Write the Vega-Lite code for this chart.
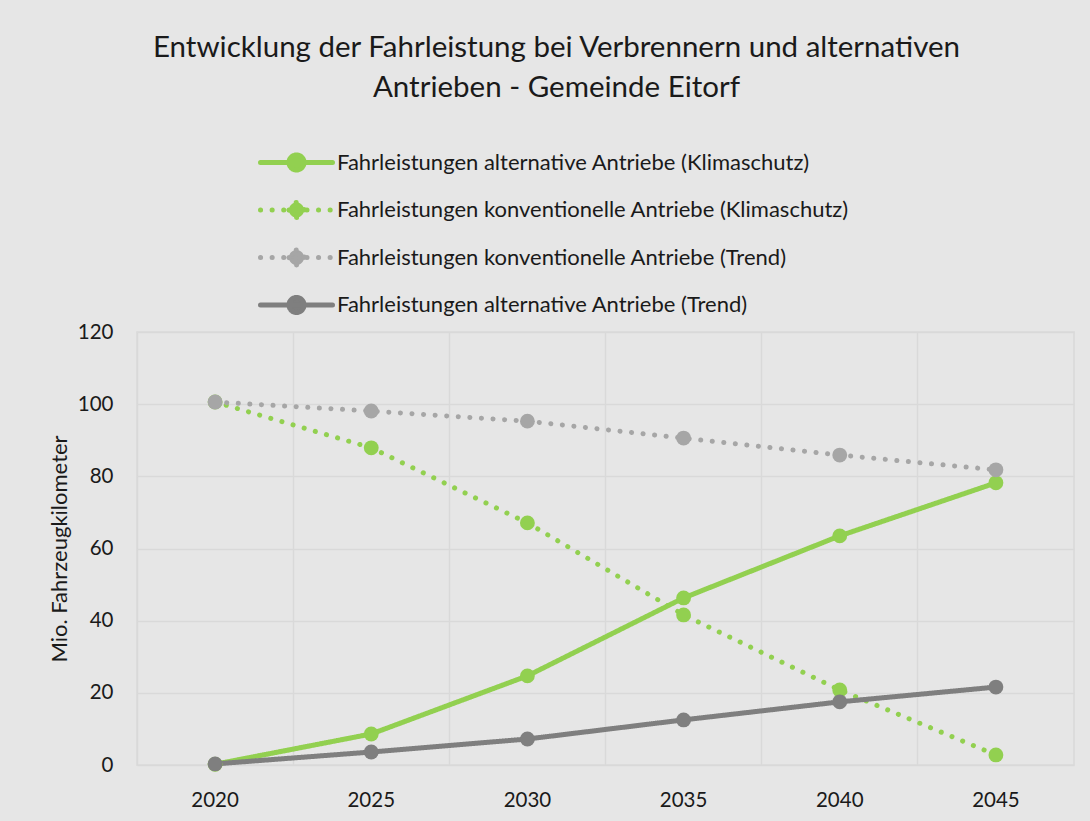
{
  "$schema": "https://vega.github.io/schema/vega-lite/v6.json",
  "width": 937,
  "height": 433,
  "autosize": "none",
  "padding": {"left": 137, "top": 332, "right": 16, "bottom": 56},
  "background": "#e6e6e6",
  "config": {
    "font": "Lato",
    "view": {"stroke": "#d9d9d9", "strokeWidth": 1.5}
  },
  "title": {
    "text": ["Entwicklung der Fahrleistung bei Verbrennern und alternativen", "Antrieben - Gemeinde Eitorf"],
    "fontSize": 29.5,
    "fontWeight": "normal",
    "color": "#1a1a1a",
    "anchor": "middle",
    "dx": -49,
    "lineHeight": 40,
    "offset": 47
  },
  "data": {
    "values": [
      {"Jahr": "2020", "Serie": "Fahrleistungen alternative Antriebe (Klimaschutz)", "Wert": 0.2},
      {"Jahr": "2025", "Serie": "Fahrleistungen alternative Antriebe (Klimaschutz)", "Wert": 8.6},
      {"Jahr": "2030", "Serie": "Fahrleistungen alternative Antriebe (Klimaschutz)", "Wert": 24.7},
      {"Jahr": "2035", "Serie": "Fahrleistungen alternative Antriebe (Klimaschutz)", "Wert": 46.3},
      {"Jahr": "2040", "Serie": "Fahrleistungen alternative Antriebe (Klimaschutz)", "Wert": 63.5},
      {"Jahr": "2045", "Serie": "Fahrleistungen alternative Antriebe (Klimaschutz)", "Wert": 78.2},
      {"Jahr": "2020", "Serie": "Fahrleistungen konventionelle Antriebe (Klimaschutz)", "Wert": 100.6},
      {"Jahr": "2025", "Serie": "Fahrleistungen konventionelle Antriebe (Klimaschutz)", "Wert": 87.9},
      {"Jahr": "2030", "Serie": "Fahrleistungen konventionelle Antriebe (Klimaschutz)", "Wert": 67.1},
      {"Jahr": "2035", "Serie": "Fahrleistungen konventionelle Antriebe (Klimaschutz)", "Wert": 41.6},
      {"Jahr": "2040", "Serie": "Fahrleistungen konventionelle Antriebe (Klimaschutz)", "Wert": 20.8},
      {"Jahr": "2045", "Serie": "Fahrleistungen konventionelle Antriebe (Klimaschutz)", "Wert": 2.8},
      {"Jahr": "2020", "Serie": "Fahrleistungen konventionelle Antriebe (Trend)", "Wert": 100.6},
      {"Jahr": "2025", "Serie": "Fahrleistungen konventionelle Antriebe (Trend)", "Wert": 98.1},
      {"Jahr": "2030", "Serie": "Fahrleistungen konventionelle Antriebe (Trend)", "Wert": 95.3},
      {"Jahr": "2035", "Serie": "Fahrleistungen konventionelle Antriebe (Trend)", "Wert": 90.6},
      {"Jahr": "2040", "Serie": "Fahrleistungen konventionelle Antriebe (Trend)", "Wert": 85.9},
      {"Jahr": "2045", "Serie": "Fahrleistungen konventionelle Antriebe (Trend)", "Wert": 81.8},
      {"Jahr": "2020", "Serie": "Fahrleistungen alternative Antriebe (Trend)", "Wert": 0.3},
      {"Jahr": "2025", "Serie": "Fahrleistungen alternative Antriebe (Trend)", "Wert": 3.6},
      {"Jahr": "2030", "Serie": "Fahrleistungen alternative Antriebe (Trend)", "Wert": 7.2},
      {"Jahr": "2035", "Serie": "Fahrleistungen alternative Antriebe (Trend)", "Wert": 12.5},
      {"Jahr": "2040", "Serie": "Fahrleistungen alternative Antriebe (Trend)", "Wert": 17.5},
      {"Jahr": "2045", "Serie": "Fahrleistungen alternative Antriebe (Trend)", "Wert": 21.6}
    ]
  },
  "mark": {
    "type": "line",
    "strokeWidth": 5,
    "strokeCap": "round",
    "point": {"filled": true, "size": 220, "opacity": 1}
  },
  "encoding": {
    "x": {
      "field": "Jahr",
      "type": "ordinal",
      "bandPosition": 0.5,
      "scale": {"type": "band", "paddingInner": 0, "paddingOuter": 0},
      "axis": {
        "title": null,
        "bandPosition": 0,
        "labelOffset": 0,
        "labelAngle": 0,
        "labelFontSize": 20.5,
        "labelColor": "#1a1a1a",
        "labelPadding": 25,
        "ticks": false,
        "domain": false,
        "grid": true,
        "gridColor": "#d9d9d9",
        "gridWidth": 1.5
      }
    },
    "y": {
      "field": "Wert",
      "type": "quantitative",
      "scale": {"domain": [0, 120], "nice": false},
      "axis": {
        "title": "Mio. Fahrzeugkilometer",
        "titleFontSize": 22,
        "titleFontWeight": "normal",
        "titleColor": "#1a1a1a",
        "titlePadding": 6,
        "values": [0, 20, 40, 60, 80, 100, 120],
        "labelFontSize": 20.5,
        "labelColor": "#1a1a1a",
        "labelPadding": 24,
        "ticks": false,
        "domain": false,
        "gridColor": "#d9d9d9",
        "gridWidth": 1.5
      }
    },
    "color": {
      "field": "Serie",
      "type": "nominal",
      "scale": {
        "domain": [
          "Fahrleistungen alternative Antriebe (Klimaschutz)",
          "Fahrleistungen konventionelle Antriebe (Klimaschutz)",
          "Fahrleistungen konventionelle Antriebe (Trend)",
          "Fahrleistungen alternative Antriebe (Trend)"
        ],
        "range": ["#92d050", "#92d050", "#a6a6a6", "#7f7f7f"]
      },
      "legend": {
        "title": null,
        "orient": "none",
        "legendX": 147,
        "legendY": -182,
        "direction": "vertical",
        "labelFontSize": 22,
        "labelLimit": 0,
        "labelColor": "#1a1a1a",
        "labelOffset": 28,
        "rowPadding": 12.5,
        "symbolType": "M-3.6,0H3.6M0.75,0A0.75,0.75 0 1,1 -0.75,0A0.75,0.75 0 1,1 0.75,0Z",
        "symbolSize": 400,
        "symbolStrokeWidth": 5,
        "encode": {
          "symbols": {
            "update": {
              "fill": {"scale": "color", "field": "value"},
              "strokeCap": {"value": "round"},
              "opacity": {"value": 1}
            }
          }
        }
      }
    },
    "strokeDash": {
      "field": "Serie",
      "type": "nominal",
      "scale": {
        "domain": [
          "Fahrleistungen alternative Antriebe (Klimaschutz)",
          "Fahrleistungen konventionelle Antriebe (Klimaschutz)",
          "Fahrleistungen konventionelle Antriebe (Trend)",
          "Fahrleistungen alternative Antriebe (Trend)"
        ],
        "range": [[1, 0], [0.1, 11.5], [0.1, 11.5], [1, 0]]
      },
      "legend": {
        "title": null,
        "orient": "none",
        "legendX": 147,
        "legendY": -182,
        "direction": "vertical",
        "labelFontSize": 22,
        "labelLimit": 0,
        "labelColor": "#1a1a1a",
        "labelOffset": 28,
        "rowPadding": 12.5,
        "symbolType": "M-3.6,0H3.6M0.75,0A0.75,0.75 0 1,1 -0.75,0A0.75,0.75 0 1,1 0.75,0Z",
        "symbolSize": 400,
        "symbolStrokeWidth": 5
      }
    }
  }
}
